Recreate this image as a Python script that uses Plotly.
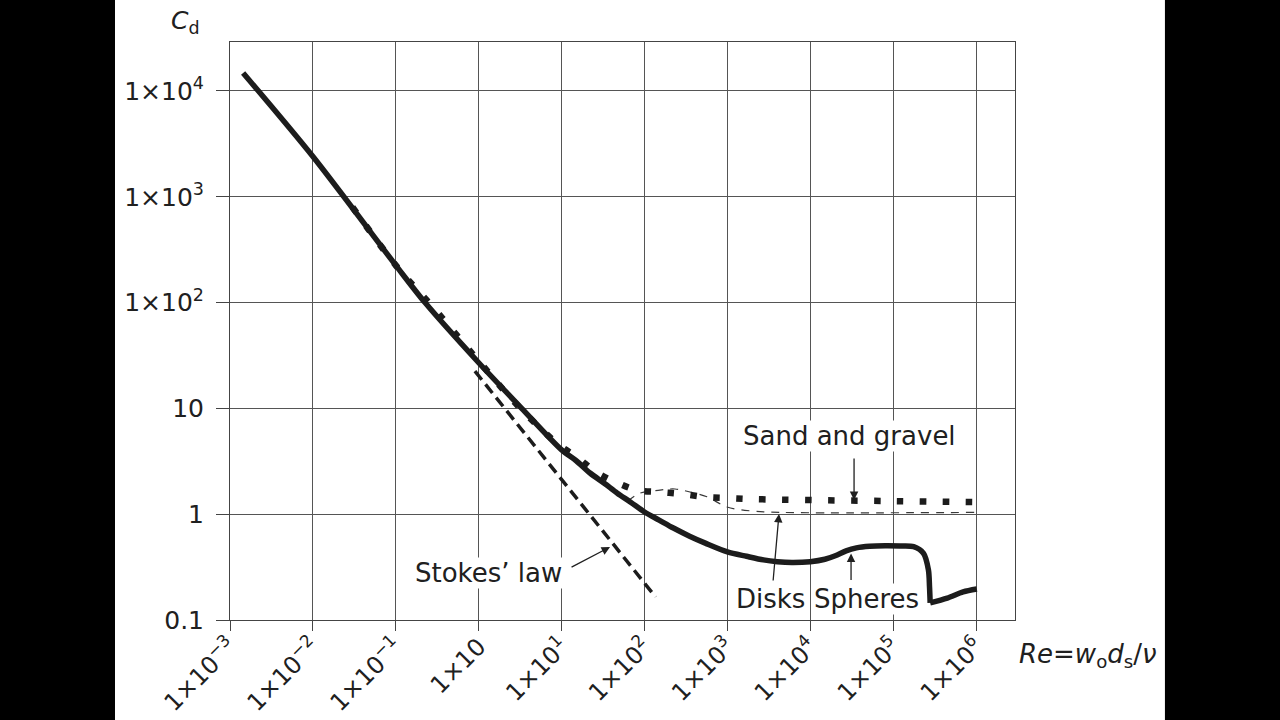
import math
import plotly.graph_objects as go

# ---------------- data ----------------
# Spheres (subcritical branch up to the drag crisis)
sphere_re = [0.00144, 0.01, 0.1, 0.225, 1, 3.3, 10, 15, 22, 33, 47, 68, 100, 150,
             223, 350, 550, 1000, 1700, 2720, 4000, 6000, 10000, 15000, 20000,
             27000, 36000, 52000, 80000, 121000, 176000, 232000, 266000, 274000,
             279000]
sphere_cd = [14800, 2400, 225, 100, 27, 10, 4.05, 3.2, 2.45, 1.95, 1.58, 1.3, 1.05,
             0.88, 0.74, 0.62, 0.53, 0.44, 0.40, 0.37, 0.356, 0.35, 0.356, 0.375,
             0.405, 0.45, 0.48, 0.497, 0.502, 0.50, 0.493, 0.427, 0.297, 0.207,
             0.145]
# Spheres (supercritical branch after the drag crisis)
sphere_sup_re = [279000, 448000, 697000, 1020000]
sphere_sup_cd = [0.145, 0.161, 0.184, 0.196]

# Sand and gravel
sand_re = [0.03, 0.1, 0.3, 1, 3, 9, 15.3, 26, 45, 81, 154, 291, 567, 1045, 1980,
           10000, 100000, 1210000]
sand_cd = [800, 225, 85, 28, 10.5, 4.6, 3.47, 2.5, 2.01, 1.69, 1.62, 1.55, 1.45,
           1.42, 1.39, 1.36, 1.33, 1.30]

# Disks
disk_re = [63, 88, 154, 233, 354, 567, 988, 2040, 4300, 1030000]
disk_cd = [1.33, 1.58, 1.69, 1.73, 1.62, 1.46, 1.17, 1.07, 1.04, 1.04]

# Stokes' law
stokes_re = [0.9, 136]
stokes_cd = [22.5, 0.165]

# Axis ticks
x_tickvals = [1e-3, 1e-2, 1e-1, 1, 10, 100, 1e3, 1e4, 1e5, 1e6]
x_ticktext = ["1×10<sup>−3</sup>", "1×10<sup>−2</sup>", "1×10<sup>−1</sup>", "1×10",
              "1×10<sup>1</sup>", "1×10<sup>2</sup>", "1×10<sup>3</sup>",
              "1×10<sup>4</sup>", "1×10<sup>5</sup>", "1×10<sup>6</sup>"]
y_tickvals = [0.1, 1, 10, 100, 1000, 10000]
y_ticktext = ["0.1", "1", "10", "1×10<sup>2</sup>", "1×10<sup>3</sup>", "1×10<sup>4</sup>"]

# Labels: (text, Re, Cd) and arrows: (Re_head, Cd_head, dx, dy)
labels = [("Stokes’ law", 1.3, 0.278),
          ("Sand and gravel", 30100, 5.48),
          ("Disks", 3270, 0.158),
          ("Spheres", 47000, 0.158)]
arrows = [(38.4, 0.49, -40, 21),
          (33700, 1.36, 0, -43),
          (4190, 1.005, -6, 68),
          (31000, 0.425, 0, 28)]

# ---------------- figure ----------------
INK = "#1c1c1c"
FONT = "DejaVu Sans, Liberation Sans, Arial, sans-serif"
TXT = "#202020"

fig = go.Figure()

fig.add_trace(go.Scatter(x=disk_re, y=disk_cd, mode="lines",
                         line=dict(color="#3a3a3a", width=1.2, dash="8px,7px", shape="spline"),
                         hoverinfo="skip"))
fig.add_trace(go.Scatter(x=stokes_re, y=stokes_cd, mode="lines",
                         line=dict(color=INK, width=3.5, dash="11px,6px"),
                         hoverinfo="skip"))
fig.add_trace(go.Scatter(x=sand_re, y=sand_cd, mode="lines",
                         line=dict(color=INK, width=6.5, dash="6.5px,16.5px", shape="spline"),
                         hoverinfo="skip"))
fig.add_trace(go.Scatter(x=sphere_re, y=sphere_cd, mode="lines",
                         line=dict(color=INK, width=5.5, shape="spline", smoothing=0.8),
                         hoverinfo="skip"))
fig.add_trace(go.Scatter(x=sphere_sup_re, y=sphere_sup_cd, mode="lines",
                         line=dict(color=INK, width=5.5, shape="spline", smoothing=0.8),
                         hoverinfo="skip"))

annotations = []
for text, re_, cd_ in labels:
    annotations.append(dict(x=math.log10(re_), y=math.log10(cd_), xref="x", yref="y",
                            text=text, showarrow=False, bgcolor="white", borderpad=0,
                            xanchor="center", yanchor="middle",
                            font=dict(family=FONT, size=26, color=TXT)))
for re_, cd_, dx, dy in arrows:
    annotations.append(dict(x=math.log10(re_), y=math.log10(cd_), xref="x", yref="y",
                            text="", showarrow=True, ax=dx, ay=dy,
                            arrowhead=2, arrowsize=1.3, arrowwidth=1.3, arrowcolor=TXT))

annotations.append(dict(x=-0.0573, y=1.0346, xref="paper", yref="paper",
                        xanchor="center", yanchor="middle",
                        text="<i>C</i><sub>d</sub>", showarrow=False,
                        font=dict(family=FONT, size=25, color=TXT)))
annotations.append(dict(x=1.093, y=-0.062, xref="paper", yref="paper",
                        xanchor="center", yanchor="middle",
                        text="<i>Re</i>=<i>w</i><sub>o</sub><i>d</i><sub>s</sub>/<i>ν</i>",
                        showarrow=False,
                        font=dict(family=FONT, size=26, color=TXT)))

shapes = [
    dict(type="rect", xref="paper", yref="paper", x0=-0.35, x1=-0.1465, y0=-0.2, y1=1.1,
         fillcolor="black", line=dict(width=0), layer="above"),
    dict(type="rect", xref="paper", yref="paper", x0=1.191, x1=1.4, y0=-0.2, y1=1.1,
         fillcolor="black", line=dict(width=0), layer="above"),
]

axis_common = dict(showgrid=True, gridcolor="#555555", gridwidth=1,
                   showline=True, linecolor="#444444", linewidth=1, mirror=True,
                   ticks="outside", tickcolor="#444444", tickwidth=1,
                   zeroline=False, automargin=False)

fig.update_layout(
    width=1280, height=720, autosize=False,
    margin=dict(l=230, r=265, t=42, b=100),
    paper_bgcolor="white", plot_bgcolor="white",
    showlegend=False,
    xaxis=dict(type="log", range=[-3, 6.469], tickmode="array",
               tickvals=x_tickvals, ticktext=x_ticktext, tickangle=-45,
               ticklen=10, ticklabelstandoff=-8,
               tickfont=dict(family=FONT, size=24, color=TXT), **axis_common),
    yaxis=dict(type="log", range=[-1, 4.463], tickmode="array",
               tickvals=y_tickvals, ticktext=y_ticktext,
               ticklen=13, ticklabelstandoff=7,
               tickfont=dict(family=FONT, size=25, color=TXT), **axis_common),
    annotations=annotations,
    shapes=shapes,
)

fig.write_html("out.html")
